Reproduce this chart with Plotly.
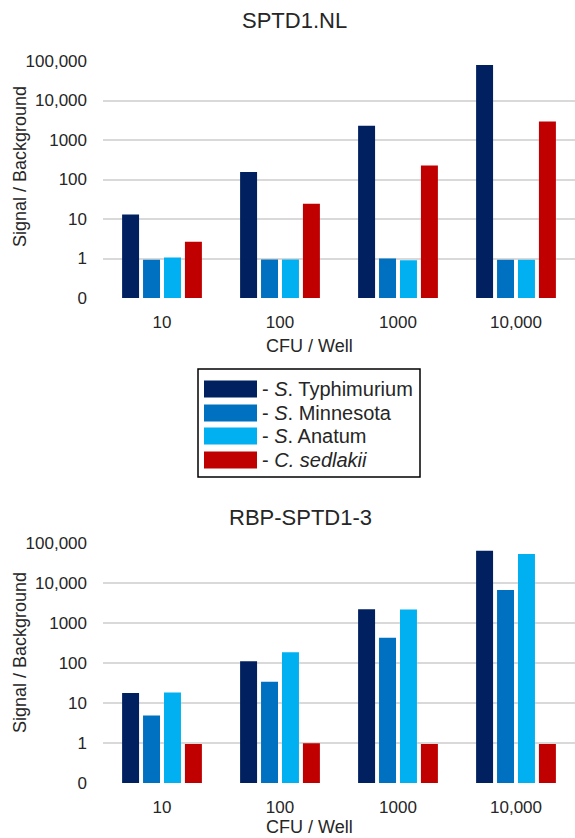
import plotly.graph_objects as go

W, H = 575, 838

categories = ["10", "100", "1000", "10,000"]
series_names = ["Typhimurium", "Minnesota", "Anatum", "sedlakii"]
legend_labels = ["- <i>S</i>. Typhimurium", "- <i>S</i>. Minnesota", "- <i>S</i>. Anatum", "- <i>C. sedlakii</i>"]
colors = ["#002060", "#0070C0", "#00B0F0", "#C00000"]

# Panel 1: SPTD1.NL
sptd1_typhimurium = [13, 155, 2300, 79000]
sptd1_minnesota = [0.93, 0.95, 1.0, 0.93]
sptd1_anatum = [1.06, 0.95, 0.9, 0.93]
sptd1_sedlakii = [2.65, 24.5, 225, 2950]

# Panel 2: RBP-SPTD1-3
rbp_typhimurium = [17.7, 111, 2200, 64000]
rbp_minnesota = [4.9, 34, 425, 6700]
rbp_anatum = [18.4, 187, 2170, 53000]
rbp_sedlakii = [0.94, 0.98, 0.94, 0.94]

y_tickvals = [0.1, 1, 10, 100, 1000, 10000, 100000]
y_ticktext = ["0", "1", "10", "100", "1000", "10,000", "100,000"]

panel1 = [sptd1_typhimurium, sptd1_minnesota, sptd1_anatum, sptd1_sedlakii]
panel2 = [rbp_typhimurium, rbp_minnesota, rbp_anatum, rbp_sedlakii]

FONT = "Liberation Sans, Arial, sans-serif"
TXT = "#262626"

fig = go.Figure()
for vals, name, col in zip(panel1, series_names, colors):
    fig.add_trace(go.Bar(x=categories, y=vals, name=name, marker=dict(color=col, line=dict(width=0)),
                         xaxis="x", yaxis="y", showlegend=False))
for vals, name, col in zip(panel2, series_names, colors):
    fig.add_trace(go.Bar(x=categories, y=vals, name=name, marker=dict(color=col, line=dict(width=0)),
                         xaxis="x2", yaxis="y2", showlegend=False))

def py(px):
    return 1 - px / H

def pxx(px):
    return px / W

x_dom = [pxx(103), 1.0]
yaxis_common = dict(type="log", range=[-1, 5], tickvals=y_tickvals, ticktext=y_ticktext,
                    showgrid=True, gridcolor="#d9d9d9", gridwidth=1.5, zeroline=False,
                    showline=False, ticks="", ticklabelstandoff=15, automargin=False,
                    tickfont=dict(family=FONT, size=17, color=TXT))
xaxis_common = dict(type="category", showgrid=False, showline=False, ticks="", ticklabelstandoff=12,
                    automargin=False, tickfont=dict(family=FONT, size=17, color=TXT))

fig.update_layout(
    template="none",
    width=W, height=H, margin=dict(l=0, r=0, t=0, b=0),
    paper_bgcolor="white", plot_bgcolor="white", showlegend=False,
    barmode="group", bargap=0.29, bargroupgap=0.19,
    xaxis=dict(domain=x_dom, anchor="y", **xaxis_common),
    yaxis=dict(domain=[py(298), py(61)], anchor="x", **yaxis_common),
    xaxis2=dict(domain=x_dom, anchor="y2", **xaxis_common),
    yaxis2=dict(domain=[py(783), py(543)], anchor="x2", **yaxis_common),
    font=dict(family=FONT, color=TXT),
)

ann = []
# titles
ann.append(dict(text="SPTD1.NL", x=pxx(294), y=py(20), xref="paper", yref="paper",
                xanchor="center", yanchor="middle",
                showarrow=False, font=dict(size=22, color=TXT, family=FONT)))
ann.append(dict(text="RBP-SPTD1-3", x=pxx(300), y=py(517), xref="paper", yref="paper",
                xanchor="center", yanchor="middle",
                showarrow=False, font=dict(size=22, color=TXT, family=FONT)))
# x axis titles
for yy in (346, 827):
    ann.append(dict(text="CFU / Well", x=pxx(309), y=py(yy), xref="paper", yref="paper",
                    xanchor="center", yanchor="middle",
                    showarrow=False, font=dict(size=18, color=TXT, family=FONT)))
# y axis titles
for yy in (167, 653):
    ann.append(dict(text="Signal / Background", x=pxx(20), y=py(yy), xref="paper", yref="paper",
                    xanchor="center", yanchor="middle",
                    showarrow=False, textangle=-90, font=dict(size=18, color=TXT, family=FONT)))

shapes = []
# custom legend box
shapes.append(dict(type="rect", xref="paper", yref="paper", x0=pxx(198), x1=pxx(420),
                   y0=py(477), y1=py(369), line=dict(color="black", width=1.5), fillcolor="white"))
row_centers = [389, 413, 436, 460]
for lab, col, yc in zip(legend_labels, colors, row_centers):
    shapes.append(dict(type="rect", xref="paper", yref="paper", x0=pxx(204), x1=pxx(257),
                       y0=py(yc + 8.5), y1=py(yc - 8.5), line=dict(width=0), fillcolor=col))
    ann.append(dict(text=lab, x=pxx(260), y=py(yc), xref="paper", yref="paper",
                    xanchor="left", yanchor="middle",
                    showarrow=False, font=dict(size=20, color=TXT, family=FONT)))

fig.update_layout(annotations=ann, shapes=shapes)
fig.write_html("out.html", config={"displayModeBar": False},
               post_script="document.body.style.margin='0';document.body.style.padding='0';")
